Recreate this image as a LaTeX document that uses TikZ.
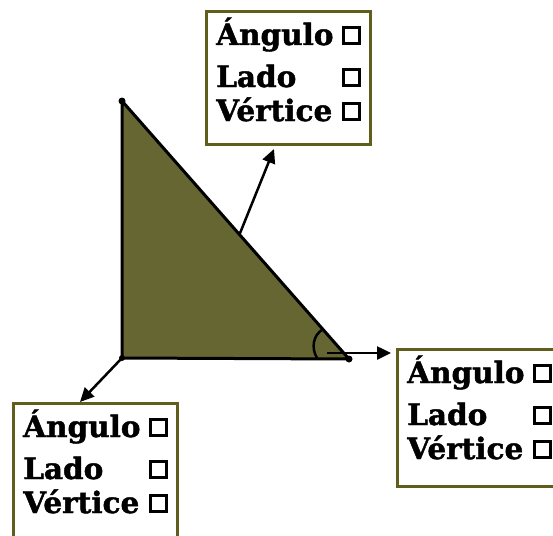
\documentclass[tikz,border=0pt]{standalone}
\usepackage{fontspec}
\setmainfont{DejaVu Serif}
\newfontfamily\lbfont{DejaVu Serif}[BoldFeatures={FakeBold=1.5}]
\usetikzlibrary{calc,arrows.meta}
\definecolor{olivefill}{RGB}{102,102,51}
\definecolor{oliveline}{RGB}{96,94,28}
\begin{document}
\begin{tikzpicture}[x=1pt,y=-1pt,
  box/.style={draw=oliveline, line width=3pt, fill=white, minimum width=164pt, minimum height=#1, anchor=north west, inner sep=0pt},
  lbl/.style={font=\lbfont\fontsize{29.5}{32}\selectfont\bfseries, inner sep=0pt, anchor=base west},
  chk/.style={draw=black, line width=3pt, minimum size=16pt, inner sep=0pt},
  vdot/.style={circle, fill=black, inner sep=0pt, minimum size=7pt},
  edge/.style={line width=3pt, line join=round},
  arr/.style={line width=2.5pt, -{Triangle[length=14pt,width=13pt]}}]
\useasboundingbox (0,0) rectangle (553,535);
\clip (0,0) rectangle (553,535);
% triangle
\coordinate (A) at (122,101);
\coordinate (B) at (122,358);
\coordinate (C) at (349,359);
\fill[olivefill] (A) -- (B) -- (C) -- cycle;
\draw[edge] (A) -- (B) -- (C) -- cycle;
\node[vdot] (dA) at (A) {};
\node[vdot, minimum size=6pt] (dB) at (B) {};
\node[vdot, minimum size=7pt] (dC) at (C) {};
% angle mark
\coordinate (P1) at ($(A)!0.885!(C)$);
\coordinate (P2) at (317,358);
\draw[line width=2.5pt] (P1) .. controls (313,335) and (311,348) .. (P2);
% boxes
\node[box=133pt] (b1) at (205,10) {};
\node[box=137pt] (b2) at (396,348) {};
\node[box=140pt] (b3) at (12,402) {};
% arrows
\coordinate (H) at ($(A)!0.5175!(C)$);
\coordinate (T1) at (274,149);
\coordinate (S2) at (327,353);
\coordinate (T2) at (391,353);
\coordinate (T3) at (80,402);
\draw[arr] (H) -- (T1);
\draw[arr] (S2) -- (T2);
\draw[arr] (B) -- (T3);
% labels
\foreach \b in {b1,b2,b3}{
  \foreach \w/\y/\i in {Ángulo/35/1,Lado/77/2,Vértice/111/3}{
    \node[lbl] (\b w\i) at ($(\b.north west)+(11,\y)$) {\w};
    \node[chk] (\b c\i) at ($(\b.north west)+(146,\y-9.5)$) {};
  }
}
\end{tikzpicture}
\end{document}
